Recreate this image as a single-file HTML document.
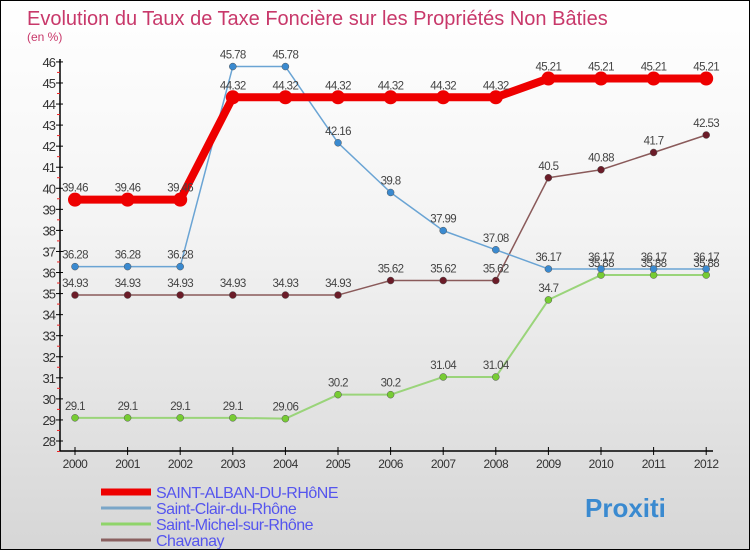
<!DOCTYPE html>
<html><head><meta charset="utf-8"><style>
body{margin:0}
#c{width:748px;height:548px;border:1px solid #000;background:linear-gradient(#fff 0%,#f4f4f4 40%,#d6d6d6 100%);position:relative;overflow:hidden;font-family:"Liberation Sans",sans-serif}
</style></head><body>
<div id="c">
<svg id="s" width="748" height="548"></svg>
</div>
<script>
const years=[2000,2001,2002,2003,2004,2005,2006,2007,2008,2009,2010,2011,2012];
const alban=[39.46,39.46,39.46,44.32,44.32,44.32,44.32,44.32,44.32,45.21,45.21,45.21,45.21];
const clair=[36.28,36.28,36.28,45.78,45.78,42.16,39.8,37.99,37.08,36.17,36.17,36.17,36.17];
const michel=[29.1,29.1,29.1,29.1,29.06,30.2,30.2,31.04,31.04,34.7,35.88,35.88,35.88];
const chav=[34.93,34.93,34.93,34.93,34.93,34.93,35.62,35.62,35.62,40.5,40.88,41.7,42.53];
const yTicks=[28,29,30,31,32,33,34,35,36,37,38,39,40,41,42,43,44,45,46];
const NS="http://www.w3.org/2000/svg",s=document.getElementById('s');
const X=i=>74+i*52.6, Y=v=>440-(v-28)*21.06;
function el(t,a,p){const e=document.createElementNS(NS,t);for(const k in a)e.setAttribute(k,a[k]);(p||s).appendChild(e);return e}
const tt=el('text',{x:26,y:24,fill:'#c8386a','font-size':20});tt.textContent='Evolution du Taux de Taxe Foncière sur les Propriétés Non Bâties';

const st=el('text',{x:26,y:40,fill:'#c8386a','font-size':12});st.textContent='(en %)';

el('line',{x1:59,y1:58,x2:59,y2:450,stroke:'#000','stroke-width':1.5});
el('line',{x1:59,y1:450,x2:712,y2:450,stroke:'#000','stroke-width':1.5});
yTicks.forEach(v=>{el('line',{x1:55,x2:62,y1:Y(v),y2:Y(v),stroke:'#000'});
 el('line',{x1:56,x2:59,y1:Y(v)+10.5,y2:Y(v)+10.5,stroke:'#e22'});
 const t=el('text',{x:54,y:Y(v)+5,'text-anchor':'end','font-size':13,fill:'#333','letter-spacing':-1});t.textContent=v;
 });
years.forEach((y,i)=>{el('line',{x1:X(i),x2:X(i),y1:446,y2:454,stroke:'#000'});
 const t=el('text',{x:X(i),y:467,'text-anchor':'middle','font-size':12,fill:'#333','letter-spacing':-0.5});t.textContent=y;
 });
function series(d,col,w,r,fill,name){
 const g=el('g',{});
 el('polyline',{points:d.map((v,i)=>X(i)+','+Y(v)).join(' '),fill:'none',stroke:col,'stroke-width':w,'stroke-linejoin':'round'},g);
 d.forEach((v,i)=>{const c=el('circle',{cx:X(i),cy:Y(v),r:r,fill:fill,stroke:'#555','stroke-width':r>5?0:0.5},g);
  
  const t=el('text',{x:X(i),y:Y(v)-8,'text-anchor':'middle','font-size':11.5,fill:'#444','letter-spacing':-0.6},g);t.textContent=v;});
}
series(chav,'#8a5a5a',1.5,3.5,'#6b1c28','chavanay-series');
series(michel,'#9ad47a',2,3.5,'#77cc33','saint-michel-series');
series(clair,'#6aa4d4',1.5,3.5,'#3a8ad0','saint-clair-series');
series(alban,'#ee0000',8,7,'#ee0000','saint-alban-series');
const leg=[['SAINT-ALBAN-DU-RHôNE','#ee0000',7],['Saint-Clair-du-Rhône','#7aa6c8',3],['Saint-Michel-sur-Rhône','#8fd46a',3],['Chavanay','#8a6060',3]];
leg.forEach((l,i)=>{const yy=491+i*16;
 el('line',{x1:100,x2:150,y1:yy,y2:yy,stroke:l[1],'stroke-width':l[2]});
 const t=el('text',{x:155,y:yy+6,'font-size':16,fill:'#5555ee','letter-spacing':-0.5});t.textContent=l[0];
 });
const p=el('text',{x:584,y:516,'font-size':26,'font-weight':'bold',fill:'#3a8ad0'});p.textContent='Proxiti';

</script>
</body></html>
